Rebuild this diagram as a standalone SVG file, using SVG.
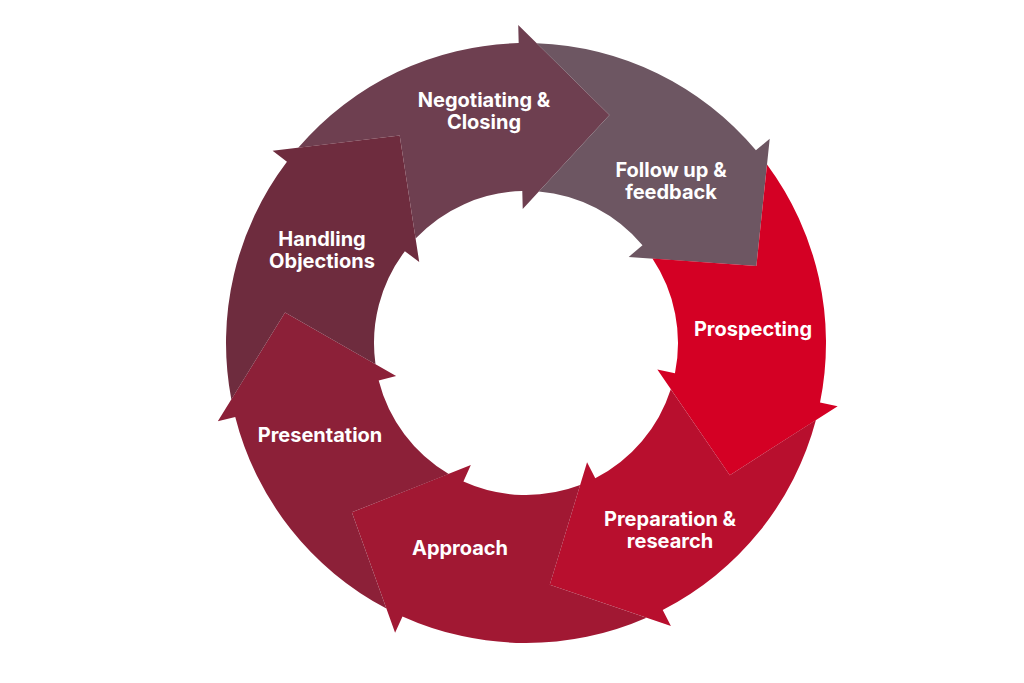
<svg xmlns="http://www.w3.org/2000/svg" xmlns:xlink="http://www.w3.org/1999/xlink" width="1024" height="683" viewBox="0 0 1024 683">
  <style>
    .lbl { font-family: Inter, "Liberation Sans", Arial, sans-serif; font-weight: 700; font-size: 20px; fill: #ffffff; text-anchor: middle; }
  </style>
  <defs>
    <path id="seg" d="M -222.95,-200.73 A 300 300 0 0 1 0,-300 L 0,-318 L 89,-226 L 0,-134 L 0,-152 A 152 152 0 0 0 -107.82,-107.14 L -121.20,-210.49 Z"/>
  </defs>
  <rect width="1024" height="683" fill="#ffffff"/>
  <g id="connectors"></g>
  <g id="negotiating">
    <use xlink:href="#seg" href="#seg" transform="translate(526 343) rotate(-1.4)" fill="#6E3F50"/>
    <text class="lbl" x="484" y="107">Negotiating &amp;</text>
    <text class="lbl" x="484" y="129">Closing</text>
  </g>
  <g id="followup">
    <use xlink:href="#seg" href="#seg" transform="translate(526 343) rotate(50.03)" fill="#6D5662"/>
    <text class="lbl" x="671" y="177">Follow up &amp;</text>
    <text class="lbl" x="671" y="199">feedback</text>
  </g>
  <g id="prospecting">
    <use xlink:href="#seg" href="#seg" transform="translate(526 343) rotate(101.46)" fill="#D40024"/>
    <text class="lbl" x="753" y="336">Prospecting</text>
  </g>
  <g id="preparation">
    <use xlink:href="#seg" href="#seg" transform="translate(526 343) rotate(152.89)" fill="#B80F2E"/>
    <text class="lbl" x="670" y="526">Preparation &amp;</text>
    <text class="lbl" x="670" y="548">research</text>
  </g>
  <g id="approach">
    <use xlink:href="#seg" href="#seg" transform="translate(526 343) rotate(204.31)" fill="#A11833"/>
    <text class="lbl" x="460" y="555">Approach</text>
  </g>
  <g id="presentation">
    <use xlink:href="#seg" href="#seg" transform="translate(526 343) rotate(255.74)" fill="#8C2038"/>
    <text class="lbl" x="320" y="442">Presentation</text>
  </g>
  <g id="handling">
    <use xlink:href="#seg" href="#seg" transform="translate(526 343) rotate(307.17)" fill="#6E2C3E"/>
    <text class="lbl" x="322" y="246">Handling</text>
    <text class="lbl" x="322" y="268">Objections</text>
  </g>
</svg>
